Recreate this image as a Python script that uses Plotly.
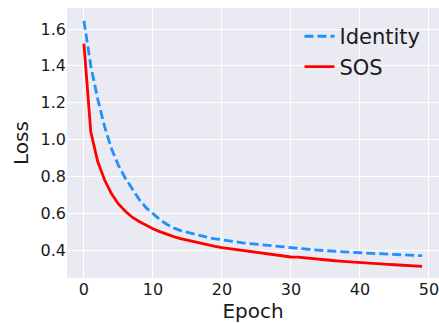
import plotly.graph_objects as go

epochs = list(range(50))
identity_loss = [1.645, 1.40, 1.22, 1.07, 0.95, 0.86, 0.79, 0.73, 0.675, 0.63,
                 0.595, 0.565, 0.54, 0.52, 0.505, 0.495, 0.485, 0.476, 0.468, 0.461,
                 0.455, 0.449, 0.444, 0.439, 0.435, 0.431, 0.427, 0.423, 0.419, 0.415,
                 0.411, 0.408, 0.405, 0.402, 0.399, 0.396, 0.393, 0.391, 0.389, 0.387,
                 0.385, 0.383, 0.381, 0.379, 0.377, 0.375, 0.374, 0.372, 0.371, 0.369]
sos_loss = [1.52, 1.04, 0.88, 0.78, 0.705, 0.65, 0.61, 0.578, 0.555, 0.535,
            0.515, 0.50, 0.485, 0.473, 0.462, 0.453, 0.445, 0.437, 0.428, 0.42,
            0.413, 0.408, 0.404, 0.398, 0.392, 0.385, 0.383, 0.378, 0.372, 0.366,
            0.362, 0.361, 0.357, 0.351, 0.348, 0.347, 0.343, 0.34, 0.337, 0.333,
            0.33, 0.329, 0.326, 0.323, 0.322, 0.32, 0.317, 0.316, 0.315, 0.311]
x_ticks = [0, 10, 20, 30, 40, 50]
y_ticks = [0.4, 0.6, 0.8, 1.0, 1.2, 1.4, 1.6]
y_tick_labels = ["0.4", "0.6", "0.8", "1.0", "1.2", "1.4", "1.6"]

FONT = "DejaVu Sans"

fig = go.Figure()
fig.add_trace(go.Scatter(x=epochs, y=identity_loss, mode="lines", name="Identity",
                         legendgroup="identity",
                         line=dict(color="#1E90FF", width=2.8, dash="9px,4px")))
fig.add_trace(go.Scatter(x=epochs, y=sos_loss, mode="lines", name="SOS",
                         legendgroup="sos",
                         line=dict(color="#FF0000", width=2.8)))

fig.update_layout(
    width=439, height=323,
    margin=dict(l=67, r=0, t=8, b=45),
    paper_bgcolor="white",
    plot_bgcolor="#EAEAF2",
    font=dict(family=FONT, color="#1a1a1a", size=16),
    showlegend=True,
    legend=dict(x=0.625, y=0.97, xanchor="left", yanchor="top", tracegroupgap=0,
                bgcolor="rgba(0,0,0,0)", font=dict(size=21, family=FONT, color="#1a1a1a")),
    xaxis=dict(range=[-2.45, 51.45], tickvals=x_ticks, showgrid=True, gridcolor="white",
               gridwidth=1, zeroline=False, showline=False, ticks="",
               ticklabeloverflow="allow",
               tickfont=dict(size=16), title=dict(text="Epoch", font=dict(size=20), standoff=4)),
    yaxis=dict(range=[0.248, 1.714], tickvals=y_ticks, ticktext=y_tick_labels, showgrid=True,
               gridcolor="white", gridwidth=1, zeroline=False, showline=False, ticks="",
               tickfont=dict(size=16), title=dict(text="Loss", font=dict(size=20), standoff=6)),
)

fig.write_html("out.html", config={"displayModeBar": False},
               post_script="document.body.style.margin='0';document.body.style.overflow='hidden';")
